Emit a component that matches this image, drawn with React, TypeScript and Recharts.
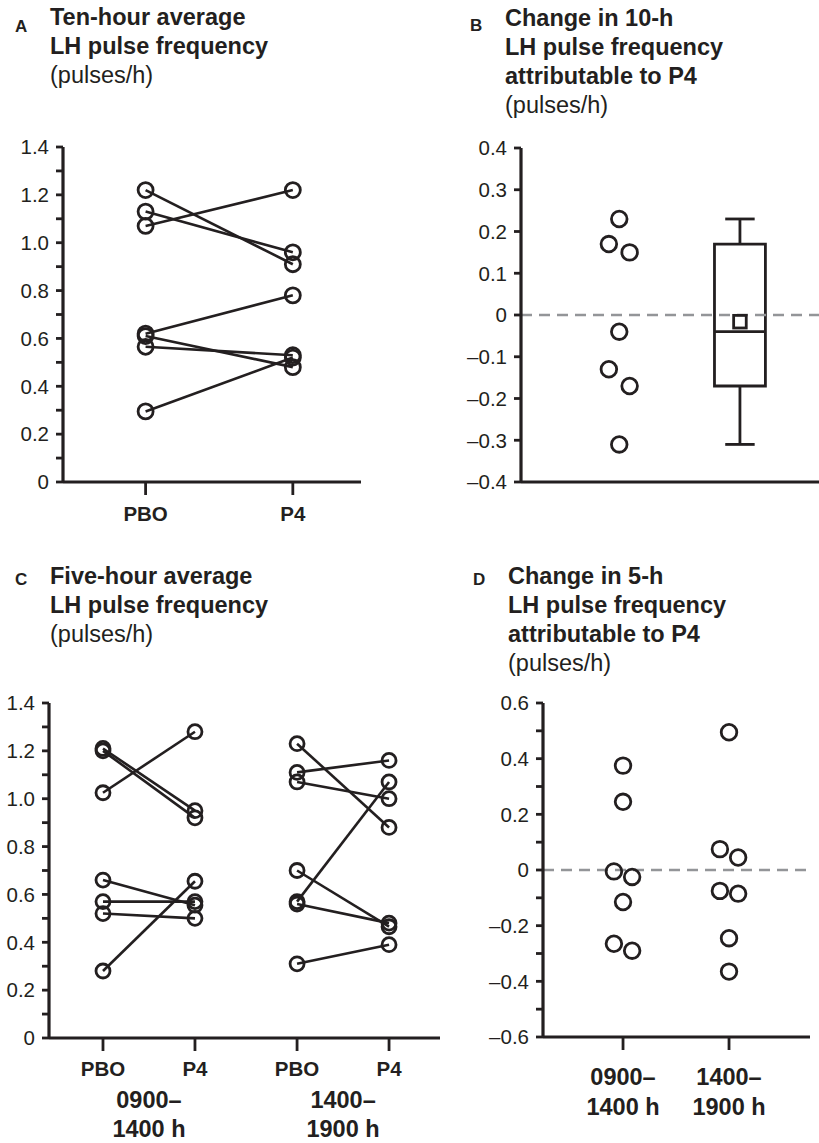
import React from 'react';
import { ScatterChart, Scatter, XAxis, YAxis, ReferenceLine, ReferenceArea } from 'recharts';

const INK = '#231f20';
const GREY = '#939598';
const FONT = '"Liberation Sans", Arial, Helvetica, sans-serif';

// Panel A: ten-hour mean LH pulse frequency, one entry per woman
const conditions = ['PBO', 'P4'];
const tenHourPBO = [1.22, 1.13, 1.07, 0.62, 0.61, 0.565, 0.295];
const tenHourP4 = [0.91, 0.96, 1.22, 0.78, 0.48, 0.53, 0.52];

// Panel B: P4 minus PBO (jittered in three columns) + box summary
const tenHourDiffLeft = [0.17, -0.13];
const tenHourDiffMid = [0.23, -0.04, -0.31];
const tenHourDiffRight = [0.15, -0.17];
const tenHourBoxMin = -0.31;
const tenHourBoxQ1 = -0.17;
const tenHourBoxMedian = -0.04;
const tenHourBoxQ3 = 0.17;
const tenHourBoxMax = 0.23;
const tenHourBoxMean = -0.016;

// Panel C: five-hour means, morning and afternoon windows
const periods = ['0900–1400 h', '1400–1900 h'];
const morningPBO = [1.2, 1.21, 1.025, 0.66, 0.57, 0.52, 0.28];
const morningP4 = [0.92, 0.95, 1.28, 0.555, 0.57, 0.5, 0.655];
const afternoonPBO = [1.23, 1.11, 1.07, 0.7, 0.57, 0.56, 0.31];
const afternoonP4 = [0.88, 1.16, 1.0, 0.465, 1.07, 0.48, 0.39];

// Panel D: P4 minus PBO per window
const morningDiffLeft = [-0.005, -0.265];
const morningDiffMid = [0.375, 0.245, -0.115];
const morningDiffRight = [-0.025, -0.29];
const afternoonDiffLeft = [0.075, -0.075];
const afternoonDiffMid = [0.495, -0.245, -0.365];
const afternoonDiffRight = [0.045, -0.085];

const ticksFreq = [0, 0.1, 0.2, 0.3, 0.4, 0.5, 0.6, 0.7, 0.8, 0.9, 1.0, 1.1, 1.2, 1.3, 1.4];
const ticksB = [-0.4, -0.3, -0.2, -0.1, 0, 0.1, 0.2, 0.3, 0.4];
const ticksD = [-0.6, -0.5, -0.4, -0.3, -0.2, -0.1, 0, 0.1, 0.2, 0.3, 0.4, 0.5, 0.6];

const JIT = 0.086;

const fmt = (v: number) => (v === 0 ? '0' : (v < 0 ? '\u2013' : '') + Math.abs(v).toFixed(1));
const fmtEven = (v: number) => (Math.round(v * 10) % 2 !== 0 ? '' : fmt(v));

const ring = (r: number) => (p: any) =>
  p.cx == null ? <g /> : <circle cx={p.cx} cy={p.cy} r={r} fill="none" stroke={INK} strokeWidth={2.8} />;

const square = (p: any) =>
  p.cx == null ? <g /> : (
    <rect x={p.cx - 6.3} y={p.cy - 6.3} width={12.6} height={12.6} fill="none" stroke={INK} strokeWidth={2.8} />
  );

const pts = (x: number, ys: number[]) => ys.map((y) => ({ x, y }));

const yAxisBase = {
  type: 'number' as const,
  dataKey: 'y',
  axisLine: { stroke: INK, strokeWidth: 3.2 },
  tickLine: { stroke: INK, strokeWidth: 2.8 },
  tickSize: 7,
  tickMargin: 7,
  interval: 0 as const,
  allowDataOverflow: true,
  tick: { fill: INK, fontSize: 20.5, fontFamily: FONT },
};

const xAxisBase = {
  type: 'number' as const,
  dataKey: 'x',
  axisLine: { stroke: INK, strokeWidth: 3.2 },
  tickLine: { stroke: INK, strokeWidth: 2.8 },
  tickSize: 13,
  tickMargin: 0,
  interval: 0 as const,
  allowDataOverflow: true,
};

const labelTick = (labels: string[], positions: number[], dy: number) => (p: any) => {
  const i = positions.findIndex((v) => Math.abs(v - p.payload.value) < 1e-6);
  return (
    <text x={p.x} y={p.y + dy} textAnchor="middle" fill={INK} fontSize={20.5} fontWeight={700} fontFamily={FONT}>
      {labels[i] ?? ''}
    </text>
  );
};

const periodTick = (positions: number[], dy1: number, dy2: number) => (p: any) => {
  const i = positions.findIndex((v) => Math.abs(v - p.payload.value) < 1e-6);
  const [a, b] = (periods[i] ?? '').split('–');
  return (
    <g>
      <text x={p.x} y={p.y + dy1} textAnchor="middle" fill={INK} fontSize={23.5} fontWeight={700} fontFamily={FONT}>
        {a + '–'}
      </text>
      <text x={p.x} y={p.y + dy2} textAnchor="middle" fill={INK} fontSize={23.5} fontWeight={700} fontFamily={FONT}>
        {b}
      </text>
    </g>
  );
};

function Title({ x, y, letter, letterDy, lines, unit }: any) {
  return (
    <g fill={INK} fontFamily={FONT}>
      <text x={x - 35} y={y + letterDy} fontSize={17} fontWeight={700}>
        {letter}
      </text>
      {lines.map((l: string, i: number) => (
        <text key={l} x={x} y={y + i * 29} fontSize={23.5} fontWeight={700}>
          {l}
        </text>
      ))}
      <text x={x} y={y + lines.length * 29} fontSize={23.5}>
        {unit}
      </text>
    </g>
  );
}

function PanelA() {
  const pos = [1, 2];
  return (
    <ScatterChart width={400} height={420} margin={{ top: 17, right: 39, bottom: 18, left: 0 }}>
      <XAxis {...xAxisBase} domain={[0.439, 2.463]} ticks={pos} height={50} tick={labelTick(conditions, pos, 26)} />
      <YAxis {...yAxisBase} domain={[0, 1.4]} ticks={ticksFreq} width={63} tickFormatter={fmtEven} />
      {tenHourPBO.map((v, i) => (
        <Scatter
          key={i}
          data={[{ x: pos[0], y: v }, { x: pos[1], y: tenHourP4[i] }]}
          line={{ stroke: INK, strokeWidth: 2.6 }}
          lineType="joint"
          shape={ring(7.5)}
          isAnimationActive={false}
        />
      ))}
    </ScatterChart>
  );
}

function PanelB() {
  const c = 1;
  const b = 2;
  return (
    <ScatterChart width={419} height={370} margin={{ top: 18, right: 0, bottom: 17, left: 0 }}>
      <XAxis {...xAxisBase} domain={[0.186, 2.655]} ticks={[]} tick={false} tickLine={false} height={1} />
      <YAxis {...yAxisBase} domain={[-0.4, 0.4]} ticks={ticksB} width={121} tickFormatter={fmt} />
      <ReferenceLine y={0} stroke={GREY} strokeWidth={2.6} strokeDasharray="11 7" />
      <ReferenceArea x1={b - 0.211} x2={b + 0.211} y1={tenHourBoxQ1} y2={tenHourBoxQ3} fill="none" fillOpacity={0} stroke={INK} strokeWidth={2.8} />
      <ReferenceLine segment={[{ x: b - 0.211, y: tenHourBoxMedian }, { x: b + 0.211, y: tenHourBoxMedian }]} stroke={INK} strokeWidth={2.8} />
      <ReferenceLine segment={[{ x: b, y: tenHourBoxQ3 }, { x: b, y: tenHourBoxMax }]} stroke={INK} strokeWidth={2.8} />
      <ReferenceLine segment={[{ x: b - 0.122, y: tenHourBoxMax }, { x: b + 0.122, y: tenHourBoxMax }]} stroke={INK} strokeWidth={2.8} />
      <ReferenceLine segment={[{ x: b, y: tenHourBoxQ1 }, { x: b, y: tenHourBoxMin }]} stroke={INK} strokeWidth={2.8} />
      <ReferenceLine segment={[{ x: b - 0.122, y: tenHourBoxMin }, { x: b + 0.122, y: tenHourBoxMin }]} stroke={INK} strokeWidth={2.8} />
      <Scatter data={pts(c - JIT, tenHourDiffLeft)} shape={ring(7.8)} isAnimationActive={false} />
      <Scatter data={pts(c, tenHourDiffMid)} shape={ring(7.8)} isAnimationActive={false} />
      <Scatter data={pts(c + JIT, tenHourDiffRight)} shape={ring(7.8)} isAnimationActive={false} />
      <Scatter data={pts(b, [tenHourBoxMean])} shape={square} isAnimationActive={false} />
    </ScatterChart>
  );
}

function PanelC() {
  const pos = [1, 2, 3.11, 4.11];
  const labels = [conditions[0], conditions[1], conditions[0], conditions[1]];
  const mids = [1.5, 3.61];
  const pairs = [
    ...morningPBO.map((v, i) => [{ x: pos[0], y: v }, { x: pos[1], y: morningP4[i] }]),
    ...afternoonPBO.map((v, i) => [{ x: pos[2], y: v }, { x: pos[3], y: afternoonP4[i] }]),
  ];
  return (
    <ScatterChart width={460} height={463} margin={{ top: 23, right: 20, bottom: 5, left: 0 }}>
      <XAxis {...xAxisBase} domain={[0.413, 4.664]} ticks={pos} height={40} tick={labelTick(labels, pos, 25)} />
      <XAxis
        {...xAxisBase}
        xAxisId="grp"
        domain={[0.413, 4.664]}
        ticks={mids}
        height={60}
        axisLine={false}
        tickLine={false}
        tickSize={0}
        tick={periodTick(mids, 30, 59)}
      />
      <YAxis {...yAxisBase} domain={[0, 1.4]} ticks={ticksFreq} width={49} tickFormatter={fmtEven} />
      {pairs.map((d, i) => (
        <Scatter
          key={i}
          data={d}
          line={{ stroke: INK, strokeWidth: 2.6 }}
          lineType="joint"
          shape={ring(7)}
          isAnimationActive={false}
        />
      ))}
    </ScatterChart>
  );
}

function PanelD() {
  const pos = [1, 2];
  return (
    <ScatterChart width={379} height={463} margin={{ top: 23, right: 9, bottom: 46, left: 0 }}>
      <XAxis {...xAxisBase} domain={[0.245, 2.764]} ticks={pos} height={60} tick={periodTick(pos, 35, 65)} />
      <YAxis {...yAxisBase} domain={[-0.6, 0.6]} ticks={ticksD} width={103} tickFormatter={fmtEven} />
      <ReferenceLine y={0} stroke={GREY} strokeWidth={2.6} strokeDasharray="11 7" />
      <Scatter data={pts(pos[0] - JIT, morningDiffLeft)} shape={ring(7.8)} isAnimationActive={false} />
      <Scatter data={pts(pos[0], morningDiffMid)} shape={ring(7.8)} isAnimationActive={false} />
      <Scatter data={pts(pos[0] + JIT, morningDiffRight)} shape={ring(7.8)} isAnimationActive={false} />
      <Scatter data={pts(pos[1] - JIT, afternoonDiffLeft)} shape={ring(7.8)} isAnimationActive={false} />
      <Scatter data={pts(pos[1], afternoonDiffMid)} shape={ring(7.8)} isAnimationActive={false} />
      <Scatter data={pts(pos[1] + JIT, afternoonDiffRight)} shape={ring(7.8)} isAnimationActive={false} />
    </ScatterChart>
  );
}

export default function App() {
  return (
    <div style={{ position: 'absolute', left: 0, top: 0, width: 819, height: 1143, background: '#fff', overflow: 'hidden' }}>
      <svg width={819} height={1143} style={{ position: 'absolute', left: 0, top: 0 }}>
        <Title x={50} y={25} letter="A" letterDy={6.5} lines={['Ten-hour average', 'LH pulse frequency']} unit="(pulses/h)" />
        <Title
          x={505}
          y={26}
          letter="B"
          letterDy={5}
          lines={['Change in 10-h', 'LH pulse frequency', 'attributable to P4']}
          unit="(pulses/h)"
        />
        <Title x={50} y={584} letter="C" letterDy={1} lines={['Five-hour average', 'LH pulse frequency']} unit="(pulses/h)" />
        <Title
          x={508}
          y={584}
          letter="D"
          letterDy={1}
          lines={['Change in 5-h', 'LH pulse frequency', 'attributable to P4']}
          unit="(pulses/h)"
        />
      </svg>
      <div style={{ position: 'absolute', left: 0, top: 130 }}>
        <PanelA />
      </div>
      <div style={{ position: 'absolute', left: 400, top: 130 }}>
        <PanelB />
      </div>
      <div style={{ position: 'absolute', left: 0, top: 680 }}>
        <PanelC />
      </div>
      <div style={{ position: 'absolute', left: 440, top: 680 }}>
        <PanelD />
      </div>
    </div>
  );
}
